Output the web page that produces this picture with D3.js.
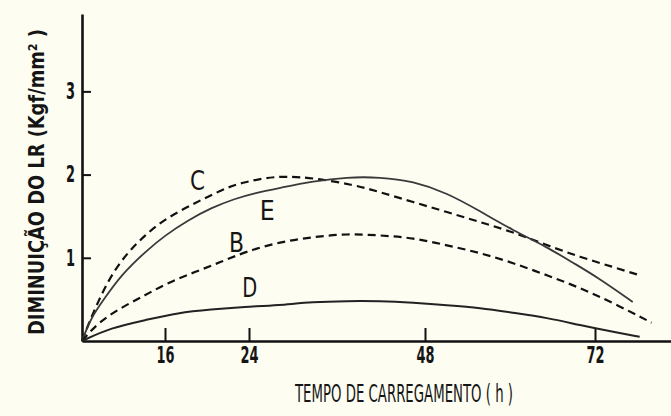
<!DOCTYPE html>
<html>
<head>
<meta charset="utf-8">
<script src="https://cdn.jsdelivr.net/npm/d3@7/dist/d3.min.js"></script>
<style>
  html, body { margin: 0; padding: 0; background: #fdfdf2; }
  svg { display: block; }
  text { font-family: "DejaVu Sans Condensed", "DejaVu Sans", sans-serif; fill: #151515; }
</style>
</head>
<body>
<svg id="chart" width="671" height="416"></svg>
<script>
// Tick values on each axis
const xTicks = [16, 24, 48, 72];
const yTicks = [1, 2, 3];

// Curve names, in drawing order
const seriesNames = ["C", "E", "B", "D"];

// Curve C (dashed): loading time (h) and strength decrease (kgf/mm²)
const timeC  = [0, 1.16, 3.08, 5.59, 8.87, 12.14, 15.23, 17.24, 18.86, 20.38, 22.0, 23.62, 26.18, 28.9, 32.73, 38.18, 41.86, 46.36, 51.11, 55.77, 60.42, 65.22, 69.88, 74.54, 78.35];
const valueC = [0, 0.19, 0.47, 0.79, 1.07, 1.27, 1.43, 1.55, 1.66, 1.75, 1.85, 1.91, 1.96, 1.98, 1.96, 1.88, 1.79, 1.67, 1.55, 1.43, 1.31, 1.15, 1.01, 0.89, 0.79];

// Curve E (solid)
const timeE  = [0, 1.73, 4.43, 7.52, 12.14, 16.0, 18.19, 20.38, 22.67, 24.82, 28.23, 32.73, 37.36, 41.86, 46.36, 51.11, 55.77, 60.42, 65.22, 68.89, 72.28, 77.36];
const valueE = [0, 0.28, 0.52, 0.79, 1.07, 1.27, 1.45, 1.60, 1.71, 1.78, 1.84, 1.92, 1.97, 1.97, 1.92, 1.78, 1.56, 1.33, 1.13, 0.94, 0.77, 0.47];

// Curve B (dashed)
const timeB  = [0, 3.08, 7.52, 12.14, 16.29, 18.86, 21.33, 23.81, 28.23, 32.73, 37.36, 41.86, 46.36, 51.11, 55.77, 60.42, 65.22, 69.88, 74.54, 80.04];
const valueB = [0, 0.22, 0.40, 0.55, 0.70, 0.83, 0.95, 1.08, 1.19, 1.25, 1.29, 1.27, 1.24, 1.15, 1.06, 0.94, 0.79, 0.64, 0.46, 0.22];

// Curve D (solid)
const timeD  = [0, 5.59, 12.14, 17.24, 20.38, 23.62, 28.0, 32.73, 37.36, 41.86, 46.36, 51.11, 55.77, 60.42, 65.22, 69.88, 74.54, 78.35];
const valueD = [0, 0.16, 0.25, 0.34, 0.38, 0.41, 0.43, 0.47, 0.48, 0.48, 0.46, 0.43, 0.40, 0.34, 0.28, 0.19, 0.11, 0.05];

// Where each curve's letter sits (time, value at the letter baseline)
const labelTime  = [19.1, 26.5, 22.8, 24.1];
const labelValue = [1.81, 1.45, 1.07, 0.53];

const seriesTime  = { C: timeC, E: timeE, B: timeB, D: timeD };
const seriesValue = { C: valueC, E: valueE, B: valueB, D: valueD };
const seriesDash  = { C: "8,5", E: null, B: "8,5", D: null };
const seriesColor = { C: "#111", E: "#3a3a3a", B: "#111", D: "#222" };
const seriesWidth = { C: 2.2, E: 1.8, B: 2.2, D: 2.0 };

const svg = d3.select("#chart");

// The time axis is hand-spaced: the 16 h tick sits closer to the origin
const x = d3.scaleLinear()
  .domain([0, 16, 24, 48, 72, 82.8])
  .range([82, 165, 249, 425, 595, 671]);

const y = d3.scaleLinear()
  .domain([0, 3.93])
  .range([341, 14]);

// Axes
const xAxis = svg.append("g")
  .attr("transform", `translate(0,${y(0)})`)
  .call(d3.axisBottom(x).tickValues(xTicks).tickSizeInner(-13).tickSizeOuter(0).tickPadding(6));

const yAxis = svg.append("g")
  .attr("transform", `translate(${x(0)},0)`)
  .call(d3.axisLeft(y).tickValues(yTicks).tickFormat(d3.format("d"))
    .tickSizeInner(-9).tickSizeOuter(0).tickPadding(7));

[xAxis, yAxis].forEach(g => {
  g.select(".domain").attr("stroke", "#111").attr("stroke-width", 2.6);
  g.selectAll(".tick line").attr("stroke", "#111").attr("stroke-width", 2);
  g.selectAll(".tick text")
    .attr("font-family", "\"DejaVu Sans Condensed\", \"DejaVu Sans\", sans-serif")
    .attr("font-size", 23)
    .attr("font-weight", "bold")
    .attr("fill", "#151515")
    .attr("lengthAdjust", "spacingAndGlyphs")
    .attr("textLength", function () { return this.textContent.length * 9; });
});

// Curves
const line = d3.line()
  .x(d => x(d[0]))
  .y(d => y(d[1]))
  .curve(d3.curveBasis);

seriesNames.forEach(name => {
  const pts = d3.zip(seriesTime[name], seriesValue[name]);
  svg.append("path")
    .datum(pts)
    .attr("fill", "none")
    .attr("stroke", seriesColor[name])
    .attr("stroke-width", seriesWidth[name])
    .attr("stroke-dasharray", seriesDash[name])
    .attr("d", line);
});

// Curve letters
svg.selectAll("text.curve-label")
  .data(seriesNames)
  .join("text")
  .attr("class", "curve-label")
  .attr("x", (d, i) => x(labelTime[i]))
  .attr("y", (d, i) => y(labelValue[i]))
  .attr("text-anchor", "middle")
  .attr("font-size", 27)
  .attr("textLength", 15)
  .attr("lengthAdjust", "spacingAndGlyphs")
  .text(d => d);

// Axis titles
svg.append("text")
  .attr("x", 404)
  .attr("y", 402)
  .attr("text-anchor", "middle")
  .attr("font-size", 24)
  .attr("textLength", 218)
  .attr("lengthAdjust", "spacingAndGlyphs")
  .text("TEMPO DE CARREGAMENTO ( h )");

svg.append("text")
  .attr("transform", "translate(44,182) rotate(-90)")
  .attr("text-anchor", "middle")
  .attr("font-size", 21)
  .attr("font-weight", "bold")
  .attr("textLength", 306)
  .attr("lengthAdjust", "spacingAndGlyphs")
  .text("DIMINUIÇÃO DO LR (Kgf/mm² )");
</script>
</body>
</html>
